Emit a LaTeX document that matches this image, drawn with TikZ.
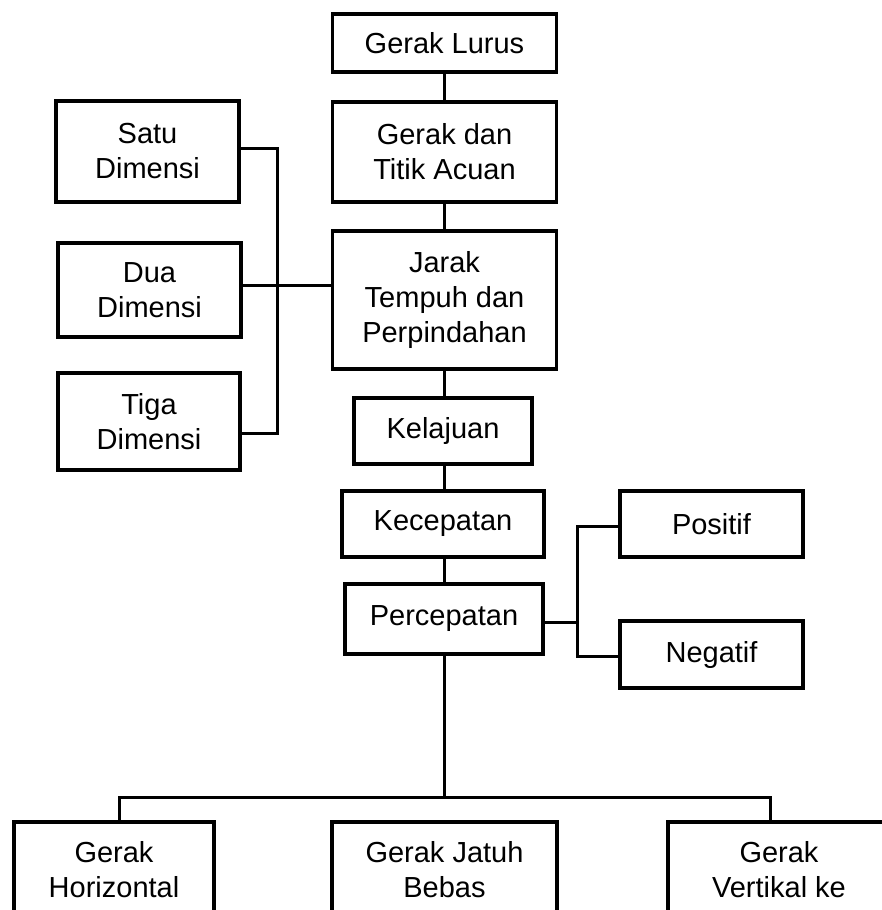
\documentclass[tikz,border=0pt]{standalone}
\usepackage{fontspec}
\setmainfont{Liberation Sans}
\begin{document}
\begin{tikzpicture}[x=1pt,y=-1pt,
  box/.style={draw=black,line width=3.5pt,rectangle,inner sep=0pt,align=center,
    font=\fontsize{29}{35}\selectfont},
  conn/.style={draw=black,line width=3pt}]
\useasboundingbox (0,0) rectangle (882,910);
\clip (0,0) rectangle (882,910);
\node[box,minimum width=224pt,minimum height=58pt] (gl) at (444.5,43) {Gerak Lurus};
\node[box,minimum width=224pt,minimum height=100pt] (gd) at (444.5,152) {Gerak dan\\Titik Acuan};
\node[box,minimum width=224pt,minimum height=138pt] (jarak) at (444.5,300) {Jarak\\Tempuh dan\\Perpindahan};
\node[box,minimum width=178pt,minimum height=66pt] (kel) at (443,431) {Kelajuan};
\node[box,minimum width=202pt,minimum height=66pt] (kec) at (443,524) {Kecepatan};
\node[box,minimum width=198pt,minimum height=70pt] (perc) at (444,619) {Percepatan};
\node[box,minimum width=183pt,minimum height=66pt] (pos) at (711.5,524) {Positif};
\node[box,minimum width=183pt,minimum height=67pt] (neg) at (711.5,654.5) {Negatif};
\node[box,minimum width=183pt,minimum height=101pt] (satu) at (147.5,151.5) {Satu\\Dimensi};
\node[box,minimum width=183pt,minimum height=94pt] (dua) at (149.5,290) {Dua\\Dimensi};
\node[box,minimum width=182pt,minimum height=97pt] (tiga) at (149,421.5) {Tiga\\Dimensi};
\node[box,minimum width=200pt,minimum height=96pt,anchor=north] (hor) at (114,820) {Gerak\\Horizontal};
\node[box,minimum width=225pt,minimum height=96pt,anchor=north] (jatuh) at (444.5,820) {Gerak Jatuh\\Bebas};
\node[box,minimum width=222pt,minimum height=96pt,anchor=north] (vert) at (779,820) {Gerak\\Vertikal ke};
% vertical chain
\draw[conn] (gl.south) -- (gd.north);
\draw[conn] (gd.south) -- (jarak.north);
\draw[conn] (jarak.south) -- (kel.north -| jarak.south);
\draw[conn] (kel.south -| jarak.south) -- (kec.north -| jarak.south);
\draw[conn] (kec.south -| jarak.south) -- (perc.north -| jarak.south);
% left bus
\coordinate (lbus) at (277,290);
\draw[conn] (satu.east) ++(0,-3.5) coordinate (s1) (s1) -| (lbus) |- (tiga.east |- 0,433);
\draw[conn] (dua.east |- 0,285) -- (jarak.west |- 0,285);
% right bus
\coordinate (rbus) at (577,622);
\draw[conn] (pos.west) ++(0,2) coordinate (p1) (p1) -| (rbus) |- (neg.west |- 0,656);
\draw[conn] (perc.east |- rbus) -- (rbus);
% bottom bus
\coordinate (bl) at (119,797);
\coordinate (br) at (770,797);
\draw[conn] (perc.south) -- (perc.south |- bl);
\draw[conn] (bl |- hor.north) -- (bl) -- (br) -- (br |- vert.north);
\end{tikzpicture}
\end{document}
